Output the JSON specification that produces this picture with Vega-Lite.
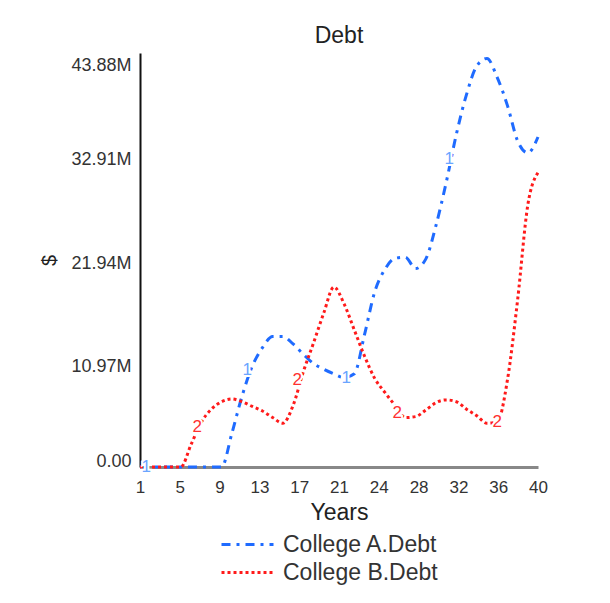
{
  "$schema": "https://vega.github.io/schema/vega-lite/v6.json",
  "autosize": "none",
  "width": 398,
  "height": 414,
  "padding": {"left": 140, "top": 53, "right": 72, "bottom": 136},
  "background": "white",
  "config": {
    "font": "Liberation Sans",
    "view": {"stroke": null},
    "title": {"fontSize": 23, "fontWeight": "normal", "color": "#222", "offset": 0},
    "axis": {"grid": false, "ticks": false, "labelFont": "Liberation Sans", "titleFont": "Liberation Sans", "titleFontWeight": "normal"}
  },
  "title": {"text": "Debt", "anchor": "middle"},
  "datasets": {
    "debt": [
      {"year": 1, "series": "College A.Debt", "value": 0},
      {"year": 2, "series": "College A.Debt", "value": 0},
      {"year": 3, "series": "College A.Debt", "value": 0},
      {"year": 4, "series": "College A.Debt", "value": 0},
      {"year": 5, "series": "College A.Debt", "value": 0},
      {"year": 6, "series": "College A.Debt", "value": 0},
      {"year": 7, "series": "College A.Debt", "value": 0},
      {"year": 8, "series": "College A.Debt", "value": 0},
      {"year": 9, "series": "College A.Debt", "value": 0},
      {"year": 10, "series": "College A.Debt", "value": 3560000},
      {"year": 11, "series": "College A.Debt", "value": 7510000},
      {"year": 12, "series": "College A.Debt", "value": 10670000},
      {"year": 13, "series": "College A.Debt", "value": 12650000},
      {"year": 14, "series": "College A.Debt", "value": 13830000},
      {"year": 15, "series": "College A.Debt", "value": 13830000},
      {"year": 16, "series": "College A.Debt", "value": 13040000},
      {"year": 17, "series": "College A.Debt", "value": 11950000},
      {"year": 18, "series": "College A.Debt", "value": 10970000},
      {"year": 19, "series": "College A.Debt", "value": 10370000},
      {"year": 20, "series": "College A.Debt", "value": 9880000},
      {"year": 21, "series": "College A.Debt", "value": 9480000},
      {"year": 22, "series": "College A.Debt", "value": 9880000},
      {"year": 23, "series": "College A.Debt", "value": 14030000},
      {"year": 24, "series": "College A.Debt", "value": 18570000},
      {"year": 25, "series": "College A.Debt", "value": 20950000},
      {"year": 26, "series": "College A.Debt", "value": 22130000},
      {"year": 27, "series": "College A.Debt", "value": 22230000},
      {"year": 28, "series": "College A.Debt", "value": 21040000},
      {"year": 29, "series": "College A.Debt", "value": 22030000},
      {"year": 30, "series": "College A.Debt", "value": 25590000},
      {"year": 31, "series": "College A.Debt", "value": 30130000},
      {"year": 32, "series": "College A.Debt", "value": 35270000},
      {"year": 33, "series": "College A.Debt", "value": 39500000},
      {"year": 34, "series": "College A.Debt", "value": 42500000},
      {"year": 35, "series": "College A.Debt", "value": 43300000},
      {"year": 36, "series": "College A.Debt", "value": 41300000},
      {"year": 37, "series": "College A.Debt", "value": 38330000},
      {"year": 38, "series": "College A.Debt", "value": 34580000},
      {"year": 39, "series": "College A.Debt", "value": 33300000},
      {"year": 40, "series": "College A.Debt", "value": 34980000},
      {"year": 1, "series": "College B.Debt", "value": 0},
      {"year": 2, "series": "College B.Debt", "value": 0},
      {"year": 3, "series": "College B.Debt", "value": 0},
      {"year": 4, "series": "College B.Debt", "value": 0},
      {"year": 5, "series": "College B.Debt", "value": 0},
      {"year": 6, "series": "College B.Debt", "value": 2370000},
      {"year": 7, "series": "College B.Debt", "value": 4740000},
      {"year": 8, "series": "College B.Debt", "value": 6130000},
      {"year": 9, "series": "College B.Debt", "value": 6920000},
      {"year": 10, "series": "College B.Debt", "value": 7210000},
      {"year": 11, "series": "College B.Debt", "value": 6920000},
      {"year": 12, "series": "College B.Debt", "value": 6420000},
      {"year": 13, "series": "College B.Debt", "value": 5930000},
      {"year": 14, "series": "College B.Debt", "value": 5240000},
      {"year": 15, "series": "College B.Debt", "value": 4640000},
      {"year": 16, "series": "College B.Debt", "value": 6520000},
      {"year": 17, "series": "College B.Debt", "value": 10080000},
      {"year": 18, "series": "College B.Debt", "value": 13140000},
      {"year": 19, "series": "College B.Debt", "value": 16300000},
      {"year": 20, "series": "College B.Debt", "value": 19070000},
      {"year": 21, "series": "College B.Debt", "value": 17290000},
      {"year": 22, "series": "College B.Debt", "value": 14520000},
      {"year": 23, "series": "College B.Debt", "value": 11760000},
      {"year": 24, "series": "College B.Debt", "value": 9390000},
      {"year": 25, "series": "College B.Debt", "value": 7900000},
      {"year": 26, "series": "College B.Debt", "value": 6520000},
      {"year": 27, "series": "College B.Debt", "value": 5240000},
      {"year": 28, "series": "College B.Debt", "value": 5340000},
      {"year": 29, "series": "College B.Debt", "value": 6030000},
      {"year": 30, "series": "College B.Debt", "value": 6820000},
      {"year": 31, "series": "College B.Debt", "value": 7110000},
      {"year": 32, "series": "College B.Debt", "value": 6920000},
      {"year": 33, "series": "College B.Debt", "value": 6130000},
      {"year": 34, "series": "College B.Debt", "value": 5430000},
      {"year": 35, "series": "College B.Debt", "value": 4640000},
      {"year": 36, "series": "College B.Debt", "value": 4740000},
      {"year": 37, "series": "College B.Debt", "value": 9190000},
      {"year": 38, "series": "College B.Debt", "value": 17690000},
      {"year": 39, "series": "College B.Debt", "value": 27760000},
      {"year": 40, "series": "College B.Debt", "value": 31220000}
    ],
    "markers": [
      {"year": 1.6, "series": "College A.Debt", "value": 0, "label": "1"},
      {"year": 11.5, "series": "College A.Debt", "value": 10280000, "label": "1"},
      {"year": 21.2, "series": "College A.Debt", "value": 9390000, "label": "1"},
      {"year": 31.3, "series": "College A.Debt", "value": 32600000, "label": "1"},
      {"year": 6.6, "series": "College B.Debt", "value": 4250000, "label": "2"},
      {"year": 16.4, "series": "College B.Debt", "value": 9190000, "label": "2"},
      {"year": 26.2, "series": "College B.Debt", "value": 5730000, "label": "2"},
      {"year": 36, "series": "College B.Debt", "value": 4740000, "label": "2"}
    ]
  },
  "encoding": {
    "x": {
      "field": "year", "type": "quantitative",
      "scale": {"domain": [1, 40], "nice": false, "zero": false},
      "axis": {
        "title": "Years", "values": [1, 4.9, 8.8, 12.7, 16.6, 20.5, 24.4, 28.3, 32.2, 36.1, 40],
        "format": ".0f", "labelFontSize": 17, "labelColor": "#333", "labelPadding": 12, "labelFlush": false,
        "domainColor": "#888", "domainWidth": 3, "titleFontSize": 23, "titleColor": "#222", "titlePadding": 6
      }
    },
    "y": {
      "field": "value", "type": "quantitative",
      "scale": {"domain": [0, 43880000], "nice": false},
      "axis": {
        "title": "$", "values": [0, 10970000, 21940000, 32910000, 43880000],
        "labelExpr": "datum.value == 0 ? '0.00' : format(datum.value / 1000000, '.2f') + 'M'",
        "labelFontSize": 18, "labelColor": "#333", "labelPadding": 9, "labelFlush": true, "labelOffset": 3,
        "domainColor": "#111", "domainWidth": 2, "titleFontSize": 20, "titleColor": "#222", "titlePadding": 11
      }
    }
  },
  "layer": [
    {
      "data": {"name": "debt"},
      "mark": {"type": "line", "interpolate": "monotone", "strokeWidth": 3},
      "encoding": {
        "color": {
          "field": "series", "type": "nominal",
          "scale": {"domain": ["College A.Debt", "College B.Debt"], "range": ["#1f6bff", "#ff1a1a"]},
          "legend": {
            "title": null, "orient": "none", "legendX": 96, "legendY": 480, "direction": "vertical", "padding": 0,
            "labelFontSize": 23, "labelColor": "#333", "symbolType": "M-4,0H4", "symbolSize": 169,
            "symbolStrokeWidth": 3, "rowPadding": 4, "labelOffset": 24
          }
        },
        "strokeDash": {
          "field": "series", "type": "nominal",
          "scale": {"domain": ["College A.Debt", "College B.Debt"], "range": [[9, 6, 3, 6], [3, 3]]},
          "legend": null
        }
      }
    },
    {
      "data": {"name": "markers"},
      "mark": {"type": "text", "fontSize": 17, "baseline": "middle", "align": "center", "stroke": "white", "strokeWidth": 4},
      "encoding": {"text": {"field": "label"}}
    },
    {
      "data": {"name": "markers"},
      "mark": {"type": "text", "fontSize": 17, "baseline": "middle", "align": "center"},
      "encoding": {
        "text": {"field": "label"},
        "color": {
          "condition": {"test": "datum.series === 'College A.Debt'", "value": "#6aa5ff"},
          "value": "#ff3030"
        }
      }
    }
  ]
}
